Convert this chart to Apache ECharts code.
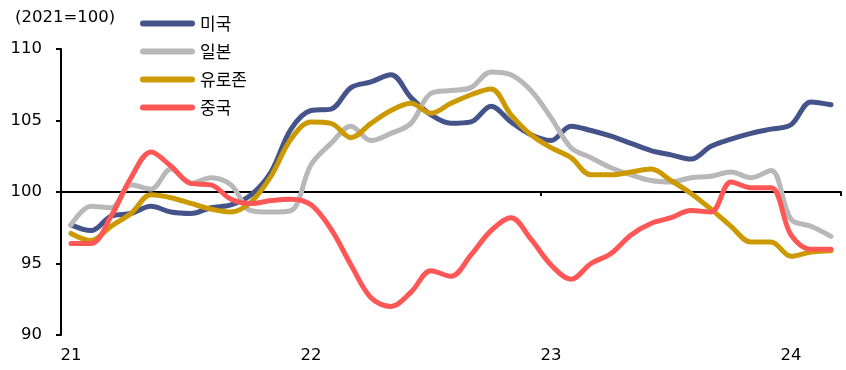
<!DOCTYPE html>
<html>
<head>
<meta charset="utf-8">
<script src="https://cdn.jsdelivr.net/npm/echarts@6/dist/echarts.min.js"></script>
<style>
  html, body { margin: 0; padding: 0; background: #fff; }
  #chart { width: 846px; height: 370px; }
</style>
</head>
<body>
<div id="chart"></div>
<script>
// Monthly index, 2021 = 100 (Jan 2021 - Mar 2024)
const months = [
  '21.01','21.02','21.03','21.04','21.05','21.06','21.07','21.08','21.09','21.10','21.11','21.12',
  '22.01','22.02','22.03','22.04','22.05','22.06','22.07','22.08','22.09','22.10','22.11','22.12',
  '23.01','23.02','23.03','23.04','23.05','23.06','23.07','23.08','23.09','23.10','23.11','23.12',
  '24.01','24.02','24.03'
];
// Year labels shown under each January
const yearLabels = { '21.01': '21', '22.01': '22', '23.01': '23', '24.01': '24' };
const yTicks = { min: 90, max: 110, step: 5 };

const usa = [
  97.7, 97.3, 98.3, 98.5, 99.0, 98.6, 98.5, 98.9, 99.1, 99.8, 101.4, 104.4,
  105.7, 105.8, 107.3, 107.7, 108.2, 106.6, 105.4, 104.8, 104.9, 106.0, 104.9, 104.0,
  103.6, 104.6, 104.3, 103.9, 103.4, 102.9, 102.6, 102.3, 103.2, 103.7, 104.1, 104.4,
  104.7, 106.3, 106.1
];
const japan = [
  97.7, 99.0, 98.9, 100.5, 100.2, 101.6, 100.6, 101.0, 100.5, 98.7, 98.6, 98.7,
  101.9, 103.4, 104.6, 103.6, 104.1, 104.8, 106.9, 107.1, 107.3, 108.4, 108.2, 107.1,
  105.2, 103.1, 102.4, 101.7, 101.2, 100.8, 100.7, 101.0, 101.1, 101.4, 101.0, 101.5,
  98.1, 97.6, 96.9
];
const euro = [
  97.1, 96.6, 97.6, 98.5, 99.8, 99.6, 99.2, 98.8, 98.6, 99.3, 101.1, 103.7,
  104.9, 104.8, 103.8, 104.8, 105.7, 106.2, 105.5, 106.2, 106.8, 107.2, 105.4, 104.0,
  103.1, 102.4, 101.2, 101.2, 101.4, 101.6, 100.8, 99.9, 98.8, 97.6, 96.5, 96.5,
  95.5, 95.8, 95.9
];
const china = [
  96.4, 96.4, 98.3, 101.0, 102.8, 101.8, 100.6, 100.5, 99.5, 99.2, 99.4, 99.5,
  99.1, 97.4, 94.9, 92.6, 92.0, 93.0, 94.5, 94.1, 95.6, 97.3, 98.2, 96.7,
  94.9, 93.9, 95.0, 95.7, 97.0, 97.8, 98.2, 98.7, 98.6, 100.7, 100.3, 100.3,
  97.0, 96.0, 96.0
];

const seriesDefs = [
  { name: '미국', data: usa, color: '#44548a' },
  { name: '일본', data: japan, color: '#b8b8b8' },
  { name: '유로존', data: euro, color: '#cc9a00' },
  { name: '중국', data: china, color: '#ff5656' }
];

const FONT = '"Noto Sans CJK KR", "Noto Sans", sans-serif';
const NUM_FONT = '"DejaVu Sans", sans-serif';
const chart = echarts.init(document.getElementById('chart'), null, { renderer: 'canvas' });

const grid = { left: 61, right: 5, top: 49, bottom: 35 };
const gridHeight = 370 - grid.top - grid.bottom;
// pixel offset that moves the tick-only axis up to the 100 level
const baseOffset = -gridHeight * (100 - yTicks.min) / (yTicks.max - yTicks.min);

chart.setOption({
  animation: false,
  textStyle: { fontFamily: FONT },
  title: {
    text: '(2021=100)',
    left: 10, top: 4,
    textStyle: { fontFamily: NUM_FONT, fontSize: 16.5, fontWeight: 'normal', color: '#000' }
  },
  legend: {
    orient: 'vertical',
    left: 135, top: 9,
    itemWidth: 55, itemHeight: 6,
    itemGap: 9,
    icon: 'path://M3,0 L52,0 A3,3 0 0 1 52,6 L3,6 A3,3 0 0 1 3,0 Z',
    textStyle: { fontFamily: FONT, fontSize: 17, color: '#000', lineHeight: 19 },
    data: seriesDefs.map(s => s.name)
  },
  grid: grid,
  xAxis: [
    {
      type: 'category',
      data: months,
      boundaryGap: true,
      position: 'bottom',
      axisLine: { show: false },
      axisTick: { show: false },
      axisLabel: {
        interval: (idx) => idx % 12 === 0,
        formatter: (v) => yearLabels[v] || '',
        color: '#000', fontSize: 16.5, margin: 12, fontFamily: NUM_FONT
      },
      splitLine: { show: false }
    },
    {
      type: 'category',
      data: months,
      boundaryGap: true,
      position: 'bottom',
      offset: baseOffset,
      axisLine: { show: true, lineStyle: { color: '#000', width: 2 } },
      axisTick: { show: true, length: 4, interval: (idx) => idx % 12 === 0 && idx > 0, lineStyle: { color: '#000', width: 2 } },
      axisLabel: { show: false },
      splitLine: { show: false }
    }
  ],
  yAxis: {
    type: 'value',
    min: yTicks.min, max: yTicks.max, interval: yTicks.step,
    axisLine: { show: true, lineStyle: { color: '#000', width: 2 } },
    axisTick: { show: true, length: 5, lineStyle: { color: '#000', width: 2 } },
    axisLabel: { color: '#000', fontSize: 16.5, margin: 19, fontFamily: NUM_FONT },
    splitLine: { show: false }
  },
  series: seriesDefs.map(s => ({
    name: s.name,
    type: 'line',
    xAxisIndex: 0,
    data: s.data,
    smooth: 0.35,
    symbol: 'none',
    color: s.color,
    lineStyle: { color: s.color, width: 5, cap: 'round', join: 'round' }
  }))
});
</script>
</body>
</html>
